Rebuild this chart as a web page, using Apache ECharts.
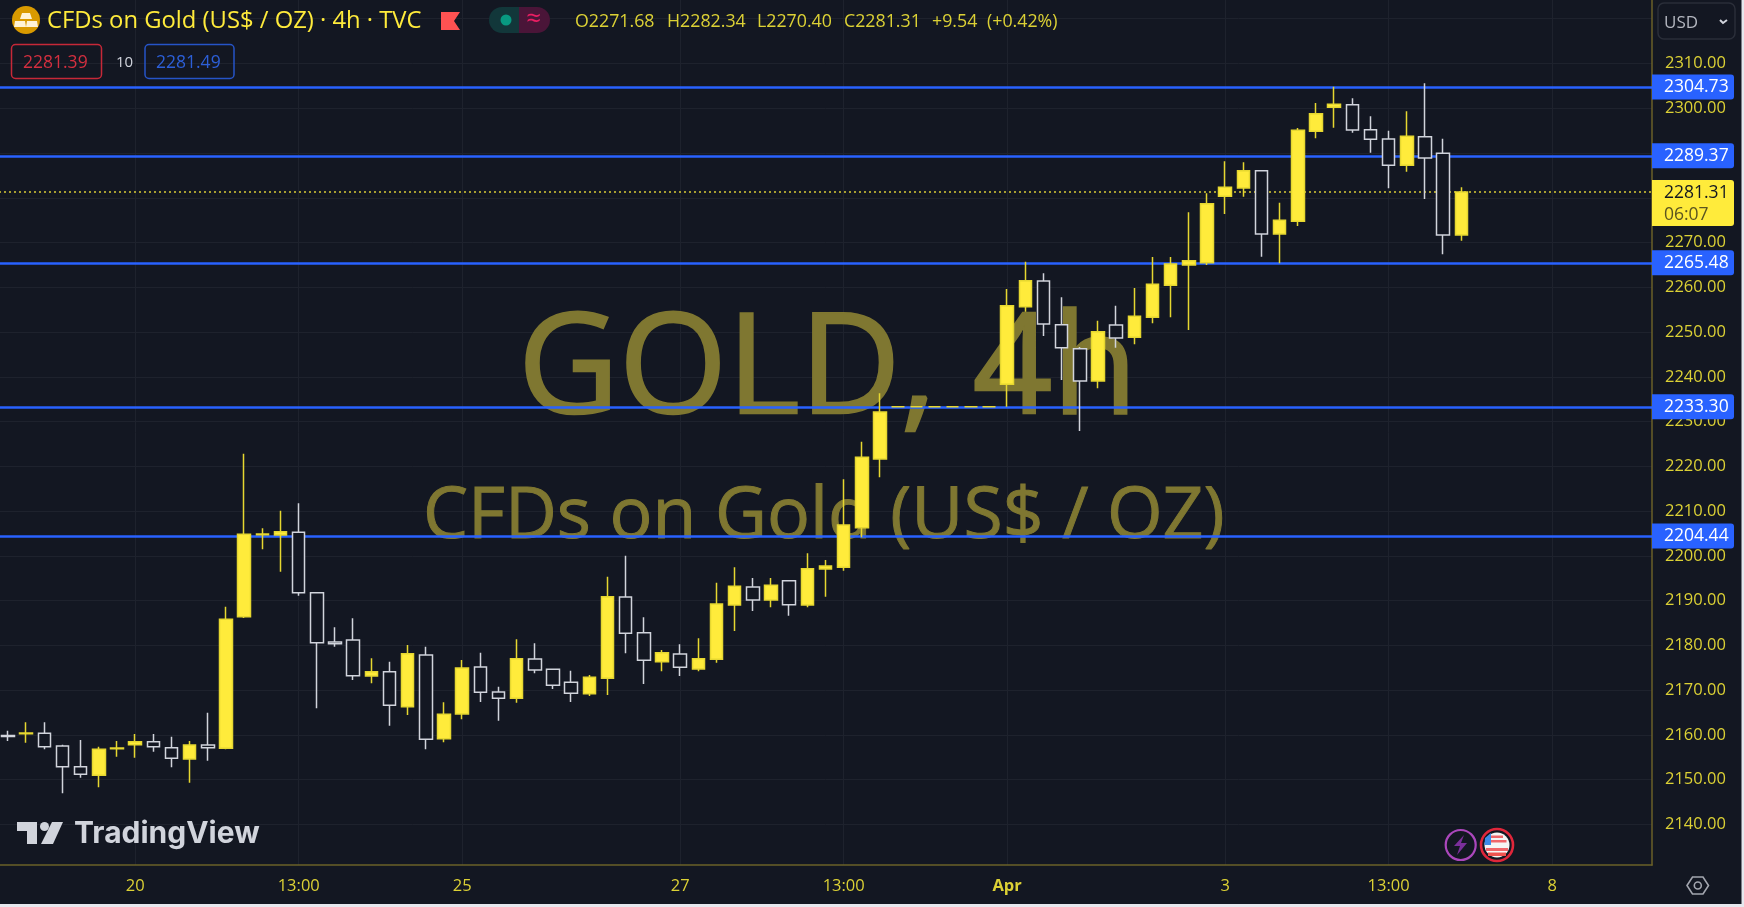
<!DOCTYPE html>
<html><head><meta charset="utf-8">
<style>html,body{margin:0;padding:0;background:#131722}#c{width:1744px;height:907px}</style>
<script src="https://cdn.jsdelivr.net/npm/echarts@6/dist/echarts.min.js"></script>
</head><body><div id="c"></div>
<script>
const categories = ['','','','','','','','20','','','','','','','','','13:00','','','','','','','','','25','','','','','','','','','','','','27','','','','','','','','','13:00','','','','','','','','','Apr','','','','','','','','','','','','3','','','','','','','','','13:00','','','','','','','','','8','','','','',''];
const opens = [2159.85,2160.25,2160.35,2157.52,2152.91,2150.97,2156.93,2157.82,2158.49,2157.15,2154.62,2157.75,2157.0,2186.42,2204.74,2204.66,2205.26,2191.78,2180.76,2181.2,2173.16,2174.13,2166.31,2177.85,2159.16,2164.67,2175.17,2169.59,2168.17,2176.96,2174.65,2171.75,2169.22,2172.64,2190.81,2182.84,2176.36,2178.08,2174.72,2176.88,2189.02,2193.04,2190.14,2194.46,2189.02,2197.07,2197.44,2206.3,2221.65,2233.3,2233.3,2233.3,2233.3,2233.3,2233.3,2238.33,2255.68,2261.41,2251.66,2246.29,2239.07,2251.58,2248.83,2253.3,2260.44,2264.99,2265.51,2280.33,2282.19,2286.06,2271.91,2274.74,2294.85,2300.21,2300.8,2295.22,2293.13,2287.25,2293.66,2289.93,2271.68];
const closes = [2159.65,2160.45,2157.37,2152.91,2151.19,2156.78,2157.08,2158.49,2157.37,2154.77,2157.75,2157.15,2185.82,2204.81,2204.89,2205.41,2191.78,2180.61,2180.39,2173.24,2174.13,2166.61,2178.15,2159.01,2164.6,2174.95,2169.51,2168.17,2177.03,2174.5,2171.08,2169.29,2172.86,2190.89,2182.69,2176.66,2178.37,2175.1,2177.03,2189.25,2193.19,2190.14,2193.42,2189.1,2197.14,2197.74,2206.9,2222.02,2232.15,2233.3,2233.3,2233.3,2233.3,2233.3,2233.3,2255.9,2261.49,2251.81,2246.52,2239.07,2250.09,2248.68,2253.52,2260.67,2265.21,2265.95,2278.69,2282.34,2286.06,2271.91,2274.96,2295.07,2298.79,2300.88,2295.14,2293.06,2287.25,2293.73,2288.89,2271.69,2281.31];
const lows = [2158.64,2158.27,2156.78,2146.95,2150.45,2148.29,2155.14,2154.92,2156.26,2152.76,2149.33,2154.25,2156.78,2186.1,2201.46,2196.47,2191.11,2165.94,2179.72,2172.27,2171.52,2162.07,2164.45,2156.78,2158.34,2163.48,2167.35,2163.18,2167.2,2173.76,2170.26,2167.35,2168.69,2168.92,2178.22,2171.37,2174.2,2173.16,2174.2,2176.14,2183.2,2187.68,2188.5,2186.64,2188.5,2190.89,2196.69,2204.14,2217.55,2233.3,2233.3,2233.3,2233.3,2233.3,2233.3,2233.34,2254.56,2249.12,2239.29,2227.9,2237.43,2246.52,2247.26,2251.95,2253.3,2250.47,2264.99,2276.38,2280.25,2266.85,2265.36,2273.7,2293.28,2295.67,2294.55,2290.08,2282.11,2285.84,2279.73,2267.37,2270.4];
const highs = [2160.95,2162.81,2162.81,2157.82,2158.86,2157.37,2158.64,2160.2,2160.2,2159.61,2158.64,2164.97,2188.65,2222.8,2206.15,2210.1,2211.74,2191.9,2184.03,2186.05,2177.11,2176.36,2180.09,2179.72,2167.28,2176.74,2178.37,2170.78,2181.35,2180.46,2174.7,2174.35,2173.39,2195.35,2200.05,2186.27,2178.97,2180.24,2181.58,2194.01,2197.44,2195.06,2195.06,2194.5,2200.57,2199.08,2217.1,2225.52,2236.31,2233.3,2233.3,2233.3,2233.3,2233.3,2233.3,2259.62,2265.73,2263.12,2257.76,2246.67,2252.55,2255.9,2259.85,2266.77,2266.77,2276.75,2281.0,2288.15,2287.92,2286.1,2278.91,2295.59,2301.18,2304.83,2302.22,2298.2,2295.0,2299.32,2305.57,2293.21,2282.34];
const levels = [2304.73,2289.37,2265.48,2233.30,2204.44];
const lastPrice = 2281.31, countdown = '06:07';
const ohlcTexts = ['O2271.68','H2282.34','L2270.40','C2281.31','+9.54','(+0.42%)'];
const titleText = 'CFDs on Gold (US$ / OZ) · 4h · TVC';
const wmLine1 = 'GOLD, 4h', wmLine2 = 'CFDs on Gold (US$ / OZ)';
const BG='#131722', YEL='#ffeb3b', AX='#dcd135', GRIDC='#1e222d', BLUE='#2962ff', DOWN='#d1d4dc', EDGE='#6b6128', WM='#7f7731';
const FF='"Open Sans"';
const ohlcX=[575,667,757,844,932,987];

const T=(x,y,text,fill,size,weight)=>({type:'text',z:100,silent:true,style:{x,y,text,fill,font:`${weight||''} ${size}px ${FF}`,verticalAlign:'middle',align:'left'}});
const R=(x,y,w,h,fill,r,stroke,lw,z)=>({type:'rect',z:z||100,silent:true,shape:{x,y,width:w,height:h,r:r||0},style:{fill:fill||'transparent',stroke:stroke||null,lineWidth:lw||0}});
const P=(pts,fill,z)=>({type:'polygon',z:z||100,silent:true,shape:{points:pts},style:{fill}});
const C=(cx,cy,r,fill,stroke,lw,z)=>({type:'circle',z:z||100,silent:true,shape:{cx,cy,r},style:{fill:fill||'transparent',stroke:stroke||null,lineWidth:lw||0}});

const graphics=[
 // watermark
 {type:'text',z:1,silent:true,style:{x:518,y:373,text:wmLine1,fill:WM,stroke:WM,lineWidth:2.5,font:`139px ${FF}`,verticalAlign:'middle',align:'left'}},
 {type:'text',z:1,silent:true,style:{x:423,y:518,text:wmLine2,fill:WM,stroke:WM,lineWidth:1,font:`71.5px ${FF}`,verticalAlign:'middle',align:'left'}},
 // header
 C(26,20,14,'#d99a00'),
 P([[22,13],[30,13],[32,19],[20,19]],'#fff3d6'),
 P([[15,21],[25,21],[26,27],[14,27]],'#fff3d6'),
 P([[27,21],[37,21],[38,27],[26,27]],'#fff3d6'),
 T(47,21,titleText,YEL,23.8),
 P([[441,12],[460,12],[454,21],[460,30],[441,30]],'#ff5252'),
 R(489,7,30,26,'#12373a',[13,0,0,13]),
 R(519,7,31,26,'#4a1538',[0,13,13,0]),
 C(506,20,5.5,'#089981'),
 {type:'text',z:100,silent:true,style:{x:534,y:20,text:'≈',fill:'#e91e63',font:`26px ${FF}`,align:'center',verticalAlign:'middle'}},
 R(11.5,44.5,90,34,'transparent',4,'#c62838',1.5),
 T(23,63,'2281.39','#d32f3f',17.5),
 T(116,63,'10','#d1d4dc',15),
 R(145,44.5,89,34,'transparent',4,'#2654c8',1.5),
 T(156,63,'2281.49','#2c5fd8',17.5),
 // currency button
 R(1658,3,77,36,BG,6,'#2a2e39',1.5),
 T(1664,23,'USD','#b2b5be',17),
 {type:'polyline',z:100,silent:true,shape:{points:[[1720,20],[1723,23],[1727,20]]},style:{fill:null,stroke:'#d1d4dc',lineWidth:2}},
 // TradingView logo
 P([[17,822],[37,822],[37,844],[27,844],[27,831],[17,831]],DOWN),
 C(44.5,826.5,4.5,DOWN),
 P([[52,822],[63,822],[53,844],[41,844]],DOWN),
 {type:'text',z:100,silent:true,style:{x:74,y:834,text:'TradingView',fill:DOWN,font:'700 30px Inter',align:'left',verticalAlign:'middle'}},
 // event icons
 C(1460.7,845,15,BG,'#ab47bc',2.2),
 P([[1464,835],[1454,846],[1460,846],[1457,855],[1467,843],[1461,843]],'#7b2f9b'),
 C(1497,845,16,BG,'#e0263a',2.6),
 C(1497,845,12.5,'#f5f5f5'),
 R(1486,848,22,3,'#f0656a'),
 R(1488,852.5,18,3.5,'#ef5350'),
 R(1491,840,15.5,2.5,'#f0656a'),
 R(1491,835.5,12,2.5,'#f0656a'),
 P([[1491,833],[1485,838],[1484.5,845],[1491,845]],'#3d8be8'),
 // frame right/bottom
 R(0,904,1744,3,'#e6e8ee'),
 R(1741.5,0,2.5,907,'#e6e8ee'),
 // gear
 {type:'polygon',z:100,silent:true,shape:{points:[[1687,885.5],[1692.5,877],[1703,877],[1708.5,885.5],[1703,894],[1692.5,894]]},style:{fill:'transparent',stroke:'#a3a6af',lineWidth:1.6}},
 C(1697.8,885.5,3.5,'transparent','#a3a6af',1.6)
];
ohlcTexts.forEach((t,i)=>graphics.push(T(ohlcX[i],21.5,t,AX,17.8)));

const tag=(v)=>({yAxis:v,lineStyle:{color:BLUE,width:2.5,type:'solid'},
  label:{show:true,position:'end',distance:0,formatter:v.toFixed(2),color:'#fff',fontFamily:FF,fontSize:17.5,backgroundColor:BLUE,
         padding:[4,6,2,12],width:64,height:19,lineHeight:19,align:'left',verticalAlign:'middle',borderRadius:[0,3,3,0]}});
const lastTag={yAxis:lastPrice,lineStyle:{color:'#d9cc36',width:1.5,type:[2,3]},
  label:{show:true,position:'end',distance:0,offset:[0,11],formatter:`{p|${lastPrice.toFixed(2)}}\n{t|${countdown}}`,backgroundColor:YEL,
         padding:[2,6,0,12],width:64,borderRadius:[0,3,3,0],align:'left',verticalAlign:'middle',
         rich:{p:{color:'#131722',fontFamily:FF,fontSize:17.5,lineHeight:22},t:{color:'#5b5520',fontFamily:FF,fontSize:17.5,lineHeight:22}}}};

const chart=echarts.init(document.getElementById('c'),null,{renderer:'canvas'});
chart.setOption({
 animation:false,backgroundColor:BG,
 graphic:{elements:graphics},
 grid:[
  {left:-1,width:1653,top:18.74,height:850.46,containLabel:false,outerBoundsMode:'none'},
  {left:-1,width:1653,top:0,height:865,containLabel:false,outerBoundsMode:'none'}
 ],
 xAxis:[
  {type:'category',gridIndex:0,data:categories,boundaryGap:true,show:false},
  {type:'category',gridIndex:1,data:categories,boundaryGap:true,
   axisLine:{show:true,lineStyle:{color:EDGE,width:1.5}},axisTick:{show:false},
   splitLine:{show:true,alignWithLabel:true,interval:(i,v)=>v!=='',lineStyle:{color:GRIDC,width:1}},
   axisLabel:{show:true,interval:0,hideOverlap:false,margin:13,color:AX,fontFamily:FF,fontSize:16.5,
     formatter:v=>v==='Apr'?'{b|Apr}':v,rich:{b:{color:AX,fontFamily:FF,fontSize:16.5,fontWeight:'bold'}}}}
 ],
 yAxis:[
  {type:'value',gridIndex:0,position:'right',min:2130,max:2320,interval:10,
   axisLine:{show:false},axisTick:{show:false},
   splitLine:{show:true,showMinLine:false,showMaxLine:true,lineStyle:{color:GRIDC,width:1}},
   axisLabel:{margin:13,lineHeight:22,padding:[6,0,0,0],color:AX,fontFamily:FF,fontSize:16.5,showMinLabel:false,showMaxLabel:false,
     formatter:v=>(v>=2140&&v<=2310)?v.toFixed(2):''}},
  {type:'value',gridIndex:1,position:'right',min:0,max:1,
   axisLine:{show:true,lineStyle:{color:EDGE,width:1.5}},axisTick:{show:false},axisLabel:{show:false},splitLine:{show:false}}
 ],
 series:[{
  type:'candlestick',xAxisIndex:0,yAxisIndex:0,barWidth:13,z:3,
  data:opens.map((o,i)=>[o,closes[i],lows[i],highs[i]]),
  itemStyle:{color:YEL,color0:BG,borderColor:'#e6d730',borderColor0:DOWN,borderWidth:1.5},
  markLine:{silent:true,symbol:'none',animation:false,precision:2,z:2,
   data:levels.map(tag).concat([lastTag])}
 }]
});
</script></body></html>
